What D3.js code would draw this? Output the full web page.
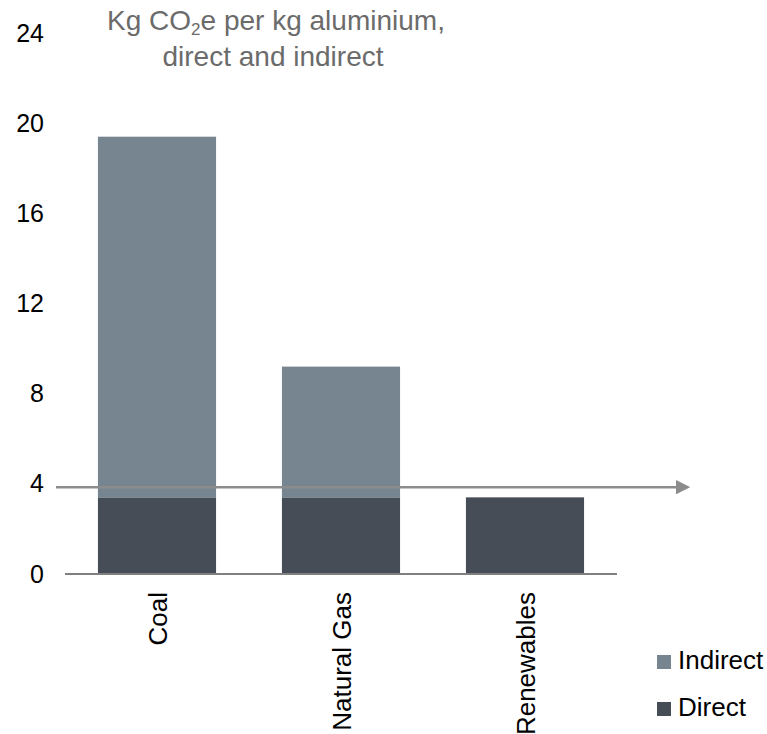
<!DOCTYPE html>
<html>
<head>
<meta charset="utf-8">
<script src="https://cdn.jsdelivr.net/npm/d3@7"></script>
<style>
  body { margin: 0; background: #fff; }
  text { font-family: "Liberation Sans", Arial, sans-serif; }
</style>
</head>
<body>
<div id="container"></div>
<script>
// Data
const categories = ["Coal", "Natural Gas", "Renewables"];
const series = ["Direct", "Indirect"];
const directValues = [3.4, 3.4, 3.4];
const indirectValues = [16.0, 5.8, 0];
const yTicks = [0, 4, 8, 12, 16, 20, 24];
const arrowValue = 3.85;
const legendItems = ["Indirect", "Direct"];

const colors = { Direct: "#464d56", Indirect: "#778591" };

const width = 767, height = 734;

const svg = d3.select("#container").append("svg")
    .attr("width", width)
    .attr("height", height);

// Scales
const x = d3.scaleBand()
    .domain(categories)
    .range([65, 617])
    .paddingInner(0.358)
    .paddingOuter(0.179);

const y = d3.scaleLinear()
    .domain([0, 24])
    .range([574, 33]);

// Stack the data
const rows = categories.map((c, i) => ({ cat: c, Direct: directValues[i], Indirect: indirectValues[i] }));
const stacked = d3.stack().keys(series)(rows);

svg.append("g").selectAll("g")
    .data(stacked)
    .enter().append("g")
    .attr("fill", d => colors[d.key])
    .selectAll("rect")
    .data(d => d)
    .enter().append("rect")
    .attr("x", d => x(d.data.cat))
    .attr("y", d => y(d[1]))
    .attr("width", x.bandwidth())
    .attr("height", d => y(d[0]) - y(d[1]));

// Baseline
svg.append("line")
    .attr("x1", x.range()[0]).attr("x2", x.range()[1])
    .attr("y1", y(0)).attr("y2", y(0))
    .attr("stroke", "#7f7f7f")
    .attr("stroke-width", 2);

// Y axis (labels only)
const yAxis = svg.append("g")
    .attr("transform", "translate(44,0)")
    .call(d3.axisLeft(y).tickValues(yTicks).tickSize(0).tickPadding(0));
yAxis.select(".domain").remove();
yAxis.selectAll("text")
    .attr("font-size", 25)
    .attr("font-family", "Liberation Sans, Arial, sans-serif")
    .attr("fill", "#000");

// Category labels, rotated
svg.append("g").selectAll("text")
    .data(categories)
    .enter().append("text")
    .attr("transform", d => `translate(${x(d) + x.bandwidth() / 2 + 10},592) rotate(-90)`)
    .attr("text-anchor", "end")
    .attr("font-size", 26)
    .attr("fill", "#000")
    .text(d => d);

// Arrow
svg.append("defs").append("marker")
    .attr("id", "arrowhead")
    .attr("viewBox", "0 0 10 10")
    .attr("refX", 0).attr("refY", 5)
    .attr("markerWidth", 5.5).attr("markerHeight", 5.5)
    .attr("markerUnits", "strokeWidth")
    .attr("orient", "auto")
    .append("path")
    .attr("d", "M0,0 L10,5 L0,10 Z")
    .attr("fill", "#8c8c8c");

svg.append("line")
    .attr("x1", x.range()[0] - 9).attr("x2", 676)
    .attr("y1", y(arrowValue)).attr("y2", y(arrowValue))
    .attr("stroke", "#8c8c8c")
    .attr("stroke-width", 2.6)
    .attr("marker-end", "url(#arrowhead)");

// Title
const title = svg.append("text")
    .attr("text-anchor", "middle")
    .attr("font-size", 28)
    .attr("fill", "#6b6b6b");
title.append("tspan").attr("x", 276).attr("y", 30).text("Kg CO");
title.append("tspan").attr("font-size", 17).attr("dy", 5).text("2");
title.append("tspan").attr("dy", -5).text("e per kg aluminium,");
svg.append("text")
    .attr("x", 273).attr("y", 66)
    .attr("text-anchor", "middle")
    .attr("font-size", 28)
    .attr("fill", "#6b6b6b")
    .text("direct and indirect");

// Legend
const legend = svg.append("g").selectAll("g")
    .data(legendItems)
    .enter().append("g")
    .attr("transform", (d, i) => `translate(657,${655 + i * 47})`);
legend.append("rect")
    .attr("width", 14).attr("height", 14)
    .attr("fill", d => colors[d]);
legend.append("text")
    .attr("x", 21).attr("y", 14)
    .attr("font-size", 26)
    .attr("fill", "#000")
    .text(d => d);
</script>
</body>
</html>
